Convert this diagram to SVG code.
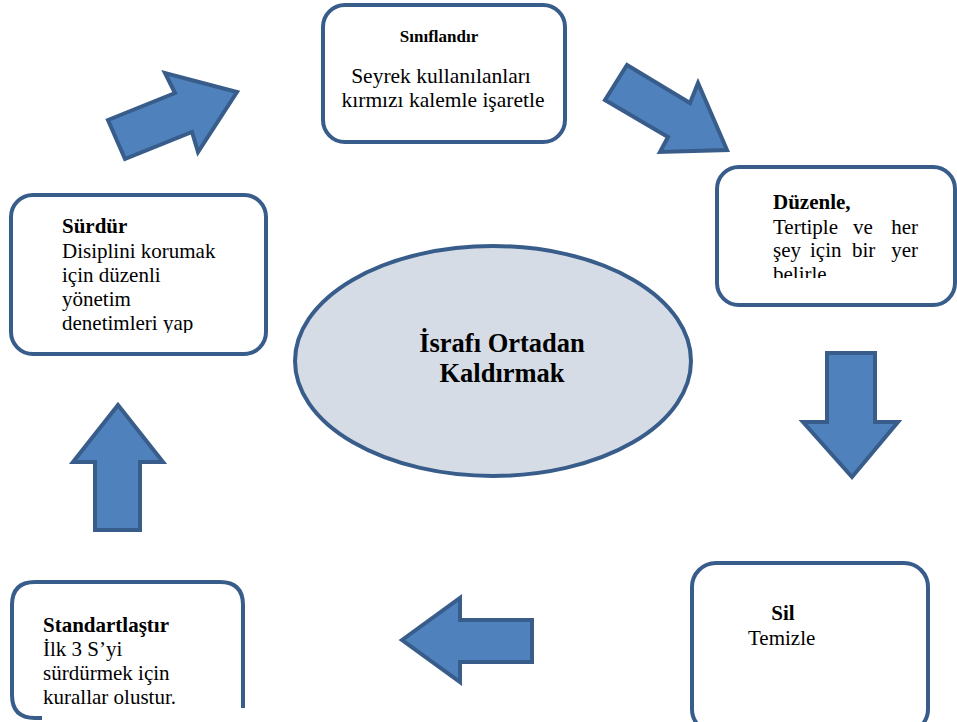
<svg xmlns="http://www.w3.org/2000/svg" width="957" height="722" viewBox="0 0 957 722">
<style>
.box{fill:#fff;stroke:#385D8A;stroke-width:4}
.arr{fill:#4F81BD;stroke:#385D8A;stroke-width:4;stroke-linejoin:miter}
text{font-family:"Liberation Serif","Times New Roman",serif;fill:#000;font-size:21px}
.b{font-weight:bold}
</style>
<defs>
<clipPath id="cD"><rect x="715" y="165" width="242" height="113"/></clipPath>
<clipPath id="cS"><rect x="9" y="193" width="260" height="140"/></clipPath>
</defs>
<rect width="957" height="722" fill="#fff"/>
<g id="connectors">
<polygon class="arr" points="108,120 175,93 165,73 237,92 198,152 192,132 125,159"/>
<polygon class="arr" points="627,65 690,103 698,83 727,150 660,152 668,137 605,100"/>
<polygon class="arr" points="827,353 875,353 875,422 898,422 852,477 803,422 827,422"/>
<polygon class="arr" points="402,640 460,598 460,620 532,620 532,662 460,662 460,682"/>
<polygon class="arr" points="118,405 163,462 140,462 140,530 95,530 95,462 73,462"/>
</g>
<g id="center">
<ellipse cx="493" cy="361" rx="198" ry="115" fill="#D6DCE5" stroke="#385D8A" stroke-width="4"/>
<text class="b" x="502" y="352" text-anchor="middle" style="font-size:26.5px">İsrafı Ortadan</text>
<text class="b" x="502" y="382" text-anchor="middle" style="font-size:26.5px">Kaldırmak</text>
</g>
<g id="siniflandir">
<rect class="box" x="323" y="5" width="242" height="137" rx="22"/>
<text class="b" x="439" y="42" text-anchor="middle" style="font-size:17px">Sınıflandır</text>
<text x="441" y="83" text-anchor="middle" style="font-size:21.5px">Seyrek kullanılanları</text>
<text x="443" y="107" text-anchor="middle" style="font-size:21.5px">kırmızı kalemle işaretle</text>
</g>
<g id="duzenle">
<rect class="box" x="717" y="167" width="238" height="138" rx="22"/>
<g clip-path="url(#cD)">
<text class="b" x="773" y="209">Düzenle,</text>
<text x="773" y="234">Tertiple</text>
<text x="853" y="234">ve</text>
<text x="918" y="234" text-anchor="end">her</text>
<text x="773" y="257">şey</text>
<text x="810" y="257">için</text>
<text x="852" y="257">bir</text>
<text x="918" y="257" text-anchor="end">yer</text>
<text x="773" y="281">belirle</text>
</g>
</g>
<g id="surdur">
<rect class="box" x="11" y="195" width="255" height="159" rx="22"/>
<g clip-path="url(#cS)">
<text class="b" x="62" y="233">Sürdür</text>
<text x="62" y="258">Disiplini korumak</text>
<text x="62" y="282">için düzenli</text>
<text x="62" y="306">yönetim</text>
<text x="62" y="330">denetimleri yap</text>
</g>
</g>
<g id="standartlastir">
<rect x="12" y="582" width="231" height="136" fill="#fff"/>
<path d="M42 718 L35 718 Q12 718 12 695 L12 605 Q12 582 35 582 L220 582 Q243 582 243 605 L243 708" fill="none" stroke="#385D8A" stroke-width="4"/>
<text class="b" x="43" y="632">Standartlaştır</text>
<text x="43" y="656">İlk 3 S’yi</text>
<text x="43" y="680">sürdürmek için</text>
<text x="43" y="704">kurallar olustur.</text>
</g>
<g id="sil">
<rect class="box" x="692" y="563" width="236" height="170" rx="24"/>
<text class="b" x="783" y="620" text-anchor="middle">Sil</text>
<text x="748" y="645">Temizle</text>
</g>
</svg>
